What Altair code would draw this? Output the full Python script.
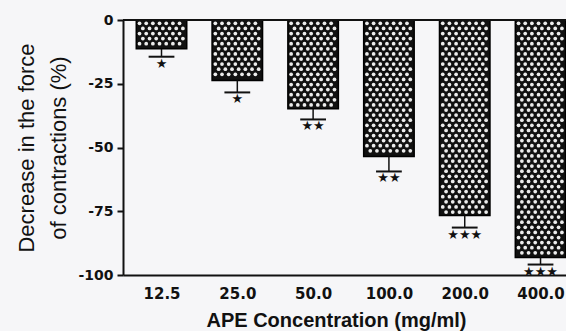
import json

import altair as alt
import pandas as pd

# APE concentrations (mg/ml) and the mean change in force of contraction (%)
concentrations = ["12.5", "25.0", "50.0", "100.0", "200.0", "400.0"]
decrease_mean = [-11.3, -23.7, -34.8, -53.5, -76.7, -93.1]
decrease_sem = [3.1, 4.7, 4.2, 5.9, 4.7, 2.8]
significance = ["★", "★", "★★", "★★", "★★★", "★★★"]

y_ticks = [0, -25, -50, -75, -100]

BAR_HALF = 0.333   # half bar width, in category units
CAP_HALF = 0.17    # half width of the error-bar cap

bars = pd.DataFrame({
    "idx": list(range(len(concentrations))),
    "conc": concentrations,
    "mean": decrease_mean,
    "sem": decrease_sem,
    "sig": significance,
})
bars["x0"] = bars["idx"] - BAR_HALF
bars["x1"] = bars["idx"] + BAR_HALF
bars["lo"] = bars["mean"] - bars["sem"]
bars["c0"] = bars["idx"] - CAP_HALF
bars["c1"] = bars["idx"] + CAP_HALF

# Halftone dot fill for each bar: staggered rows of light dots inside the bar
dots = []
for i, m in enumerate(decrease_mean):
    yy, row = -1.3, 0
    while yy > m + 1.0:
        shift = 0.044 if row % 2 else 0.0
        for j in range(7):
            dots.append({"px": i - 0.29 + shift + 0.088 * j, "py": yy})
        yy -= 2.0
        row += 1
dots = pd.DataFrame(dots)

label_expr = f"{json.dumps(concentrations)}[datum.value]"

x_scale = alt.Scale(domain=[-0.508, 5.336], nice=False, zero=False)
y_scale = alt.Scale(domain=[-100, 0], nice=False)

x_axis = alt.Axis(
    title="APE Concentration (mg/ml)",
    values=list(range(len(concentrations))),
    labelExpr=label_expr,
    ticks=False,
    grid=False,
    domainWidth=2,
    domainColor="#111",
    labelFont="DejaVu Sans",
    labelFontWeight="bold",
    labelFontSize=15,
    labelColor="#111",
    labelBaseline="alphabetic",
    labelPadding=23,
    titleFont="Liberation Sans",
    titleFontWeight="bold",
    titleFontSize=20,
    titleColor="#111",
    titleBaseline="alphabetic",
    titleX=213,
    titleY=51,
)

y_axis = alt.Axis(
    title=["Decrease in the force", "of contractions (%)"],
    values=y_ticks,
    labelExpr="toString(datum.value)",
    grid=False,
    tickSize=6,
    tickWidth=2,
    tickColor="#111",
    domainWidth=2,
    domainColor="#111",
    labelFont="DejaVu Sans",
    labelFontWeight="bold",
    labelFontSize=14,
    labelColor="#111",
    labelPadding=4,
    titleFont="Liberation Sans",
    titleFontWeight="normal",
    titleFontSize=22,
    titleColor="#111",
    titleLineHeight=32,
    titleBaseline="alphabetic",
    titleAngle=270,
    titleX=-90,
)

base = alt.Chart(bars)

bar_marks = base.mark_rect(fill="#111", stroke="#000", strokeWidth=1.5).encode(
    x=alt.X("x0:Q", scale=x_scale, axis=x_axis),
    x2="x1:Q",
    y=alt.Y("mean:Q", scale=y_scale, axis=y_axis),
    y2=alt.datum(0),
)

dot_marks = alt.Chart(dots).mark_circle(color="#ececec", opacity=1, size=14).encode(
    x=alt.X("px:Q", scale=x_scale),
    y=alt.Y("py:Q", scale=y_scale),
)

stems = base.mark_rule(color="#111", strokeWidth=1.5).encode(
    x="idx:Q", y="mean:Q", y2="lo:Q"
)

caps = base.mark_rule(color="#111", strokeWidth=2).encode(
    x="c0:Q", x2="c1:Q", y="lo:Q"
)

stars = base.mark_text(
    font="DejaVu Sans", fontSize=13, baseline="top", dy=1, color="#111"
).encode(x="idx:Q", y="lo:Q", text="sig:N")

zero_line = alt.Chart(pd.DataFrame({"z": [0]})).mark_rule(
    color="#111", strokeWidth=2
).encode(y=alt.Y("z:Q", scale=y_scale))

chart = (
    alt.layer(bar_marks, dot_marks, stems, caps, stars, zero_line)
    .properties(
        width=443,
        height=255,
        autosize=alt.AutoSizeParams(type="none"),
        padding={"left": 123, "top": 20, "right": 0, "bottom": 56},
        background="#f6f6f8",
    )
    .configure_view(stroke=None)
)

chart.save("out.html", embed_options={"renderer": "svg", "actions": False})
